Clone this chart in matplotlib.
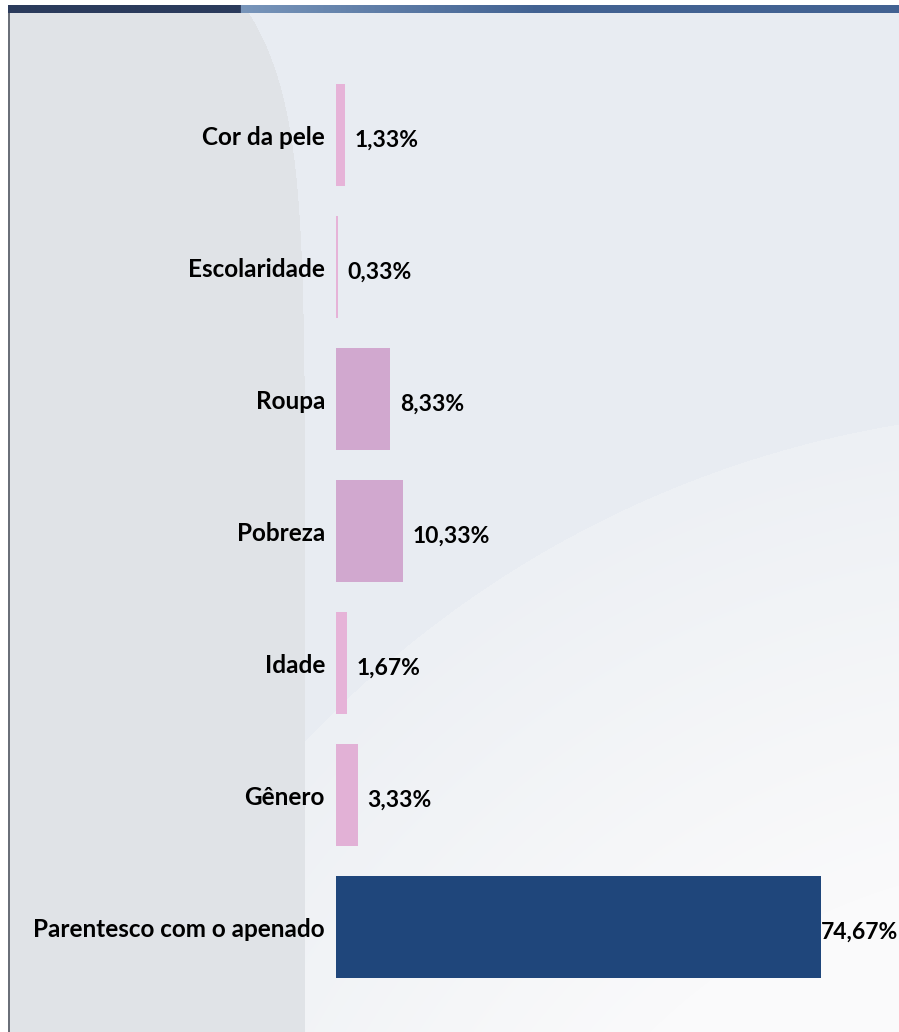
import matplotlib
matplotlib.use("Agg")
import matplotlib.pyplot as plt
import numpy as np

# data, top to bottom
categorias = ["Cor da pele", "Escolaridade", "Roupa", "Pobreza", "Idade", "Gênero",
              "Parentesco com o apenado"]
valores = [1.33, 0.33, 8.33, 10.33, 1.67, 3.33, 74.67]
rotulos = ["1,33%", "0,33%", "8,33%", "10,33%", "1,67%", "3,33%", "74,67%"]
cores = ["#e6b3d8", "#e6b3d8", "#d1a8cf", "#d1a8cf", "#e6b3d8", "#e2b1d6", "#1f467b"]

W, H = 899, 1032
fig = plt.figure(figsize=(W / 100, H / 100), dpi=100)
fig.patch.set_facecolor("white")

# background of the slide
bg = fig.add_axes([0, 0, 1, 1])
bg.set_axis_off()
yy, xx = np.mgrid[0:H, 0:W].astype(float)
img = np.ones((H, W, 3))
left_col = np.array([0xe0, 0xe3, 0xe7]) / 255
right_col = np.array([0xe8, 0xec, 0xf2]) / 255
arc_col = np.array([0xed, 0xf0, 0xf4]) / 255
white_col = np.array([0xfa, 0xfa, 0xfb]) / 255
bound = 305 - 65 * np.exp(-yy / 90.0)
is_left = xx < bound
img[:] = right_col
img[is_left] = left_col
# lighter arc at lower right
d = np.sqrt((xx - 1070) ** 2 + (yy - 1460) ** 2)
inside = (d < 1050) & ~is_left
t = np.clip((1050 - d) / 450, 0, 1)[..., None]
arc = arc_col * (1 - t) + white_col * t
img[inside] = arc[inside]
# white area outside the panel
img[:13, :] = 1
img[:, :9] = 1
img[13:, 8:10] = np.array([0x6a, 0x6f, 0x78]) / 255
bg.imshow(img, extent=[0, W, H, 0], aspect="auto", interpolation="bilinear")
# top dark strip
strip = np.zeros((1, W, 3))
c1 = np.array([0x2b, 0x3b, 0x5c]) / 255
c2 = np.array([0x78, 0x95, 0xba]) / 255
c3 = np.array([0x42, 0x62, 0x92]) / 255
for i in range(W):
    if i < 235:
        strip[0, i] = c1
    else:
        f = min((i - 235) / 300, 1)
        strip[0, i] = c2 * (1 - f) + c3 * f
bg.imshow(strip, extent=[8, W, 13, 5], aspect="auto", interpolation="bilinear")
bg.set_xlim(0, W)
bg.set_ylim(H, 0)

# chart axes
x0 = 336
px_per_unit = 6.5
ax = fig.add_axes([x0 / W, 0, (W - x0) / W, 1])
ax.patch.set_alpha(0)
pos = np.arange(len(categorias))
ax.barh(pos, valores, height=0.78, color=cores)
ax.set_xlim(0, (W - x0) / px_per_unit)
ax.set_ylim((H - 135) / 132, -135 / 132)
ax.set_axis_off()

fam = ["Lato", "DejaVu Sans"]
for i, (c, v, r) in enumerate(zip(categorias, valores, rotulos)):
    ax.annotate(c, (0, i), xytext=(-8, -2), textcoords="offset points",
                ha="right", va="center", fontsize=17.5, fontweight="bold",
                family=fam, color="black")
    off = 7 if i < len(categorias) - 1 else 0
    ax.annotate(r, (v, i), xytext=(off, -3.5), textcoords="offset points",
                ha="left", va="center", fontsize=16.5, fontweight="bold",
                family=fam, color="black")

fig.savefig("out.png", dpi=100)
